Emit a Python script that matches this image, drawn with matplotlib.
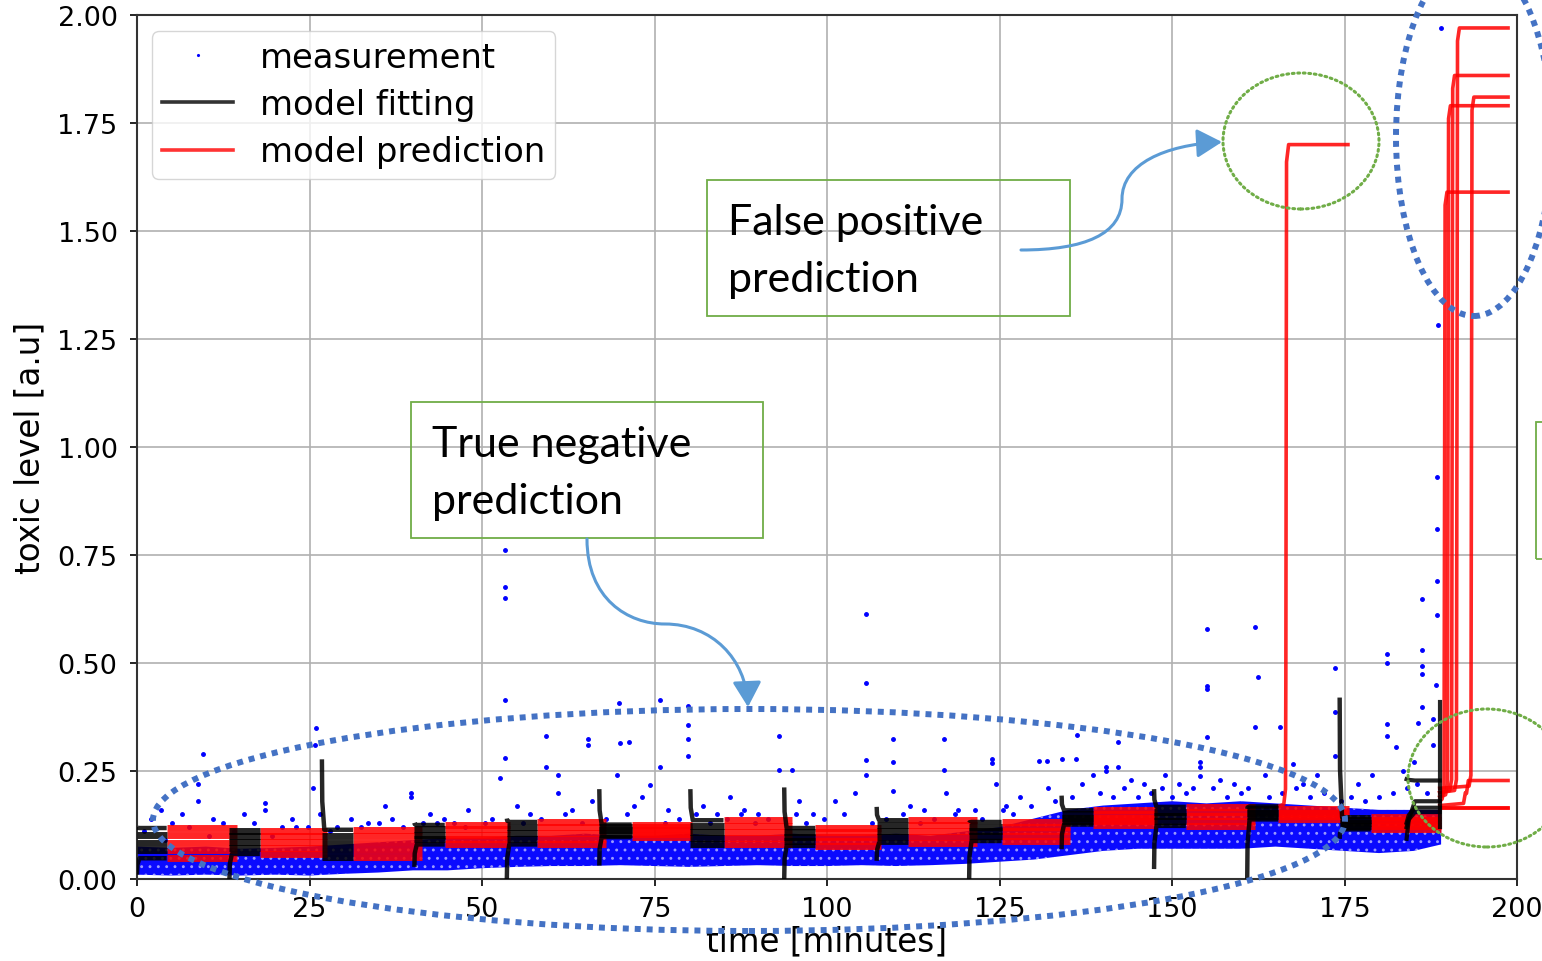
import numpy as np
import matplotlib
matplotlib.use("Agg")
import matplotlib.pyplot as plt
from matplotlib.patches import Ellipse, Rectangle, FancyArrowPatch
from matplotlib.path import Path

W, H = 1542, 962

# ---------------- data ----------------
# dense measurement band (minutes, lower / upper toxic level)
band_t = [0, 5, 10, 15, 20, 25, 30, 35, 40, 45, 50, 55, 60, 65, 70, 75, 80, 85, 90, 95,
          100, 105, 110, 115, 120, 125, 130, 135, 140, 145, 150, 155, 160, 165, 170, 175,
          180, 185, 189]
band_lo = [0.010, 0.008, 0.010, 0.008, 0.010, 0.008, 0.012, 0.015, 0.020, 0.020, 0.025,
           0.028, 0.030, 0.030, 0.032, 0.030, 0.028, 0.030, 0.032, 0.030, 0.030, 0.032,
           0.030, 0.032, 0.035, 0.040, 0.045, 0.055, 0.065, 0.070, 0.070, 0.070, 0.070,
           0.075, 0.070, 0.065, 0.060, 0.065, 0.080]
band_hi = [0.075, 0.072, 0.075, 0.070, 0.072, 0.075, 0.080, 0.085, 0.090, 0.095, 0.095,
           0.100, 0.100, 0.105, 0.100, 0.100, 0.105, 0.100, 0.100, 0.105, 0.100, 0.100,
           0.105, 0.100, 0.110, 0.120, 0.140, 0.160, 0.170, 0.175, 0.180, 0.175, 0.180,
           0.175, 0.170, 0.165, 0.160, 0.160, 0.160]

# scattered measurements outside the dense band
meas_t = [2.0, 3.5, 5.0, 6.5, 8.8, 8.8, 9.6, 11.0, 12.5, 15.5, 17.0, 18.5, 18.6, 21.0, 22.5,
          24.8, 25.5, 25.8, 25.9, 26.5, 29.0, 31.0, 33.5, 36.0, 37.0, 39.7, 39.7, 42.5, 43.5,
          46.0, 48.0, 50.5, 52.6, 53.3, 53.3, 53.3, 53.3, 53.4, 55.0, 57.0, 59.3, 59.3, 61.0,
          61.0, 63.0, 65.3, 65.3, 66.0, 69.5, 69.9, 70.0, 71.3, 72.0, 73.2, 74.3, 75.8, 75.8,
          77.0, 79.8, 79.8, 79.8, 79.8, 82.0, 84.0, 86.0, 88.0, 90.0, 93.1, 93.1, 94.9, 96.0,
          98.0, 101.2, 104.0, 105.7, 105.7, 105.7, 105.7, 109.6, 109.6, 109.6, 112.0, 114.0,
          116.9, 117.0, 117.2, 119.0, 123.9, 123.9, 124.5, 126.0, 128.0, 130.7, 131.9, 132.0,
          134.1, 136.1, 136.2, 137.0, 138.5, 140.4, 140.4, 142.2, 142.2, 144.0, 146.0, 149.0,
          151.0, 153.0, 154.0, 154.0, 154.1, 155.1, 155.1, 155.1, 155.1, 157.0, 159.0, 162.1,
          162.4, 162.1, 163.5, 165.7, 167.5, 169.0, 171.0, 173.6, 173.6, 173.6, 177.0, 179.0,
          181.1, 181.1, 181.1, 181.1, 182.4, 183.5, 185.0, 186.2, 186.2, 186.2, 186.2, 186.2,
          185.6, 187.8, 187.8, 188.4, 188.4, 188.4, 188.4, 189.0, 188.5, 188.3,
          1.0, 4.0, 7.5, 10.5, 14.0, 19.5, 23.0, 28.0, 32.5, 35.0, 38.5, 41.5, 44.5, 47.5,
          51.5, 56.0, 58.5, 62.0, 64.5, 68.0, 71.0, 76.5, 78.5, 81.0, 83.0, 85.5, 87.5, 89.5,
          91.5, 95.5, 97.0, 99.5, 102.5, 106.5, 108.5, 111.0, 113.5, 115.5, 118.5, 121.5,
          122.5, 125.5, 127.0, 129.5, 133.0, 135.5, 139.5, 141.5, 143.0, 145.0, 147.0, 148.5,
          150.0, 152.0, 156.0, 158.0, 160.0, 161.0, 164.0, 166.0, 168.0, 170.0, 172.0, 174.5,
          176.0, 178.0, 180.0, 182.0, 184.0, 185.5, 187.0]
meas_v = [0.14, 0.16, 0.13, 0.15, 0.22, 0.18, 0.29, 0.14, 0.13, 0.15, 0.13, 0.16, 0.175, 0.12,
          0.14, 0.12, 0.21, 0.31, 0.35, 0.15, 0.12, 0.14, 0.13, 0.17, 0.14, 0.20, 0.19, 0.15,
          0.13, 0.13, 0.16, 0.13, 0.234, 0.762, 0.675, 0.65, 0.415, 0.28, 0.17, 0.15, 0.33,
          0.26, 0.241, 0.20, 0.16, 0.324, 0.31, 0.18, 0.24, 0.407, 0.315, 0.317, 0.17, 0.19,
          0.218, 0.415, 0.26, 0.16, 0.40, 0.357, 0.324, 0.285, 0.17, 0.15, 0.19, 0.16, 0.15,
          0.33, 0.252, 0.252, 0.18, 0.15, 0.18, 0.20, 0.613, 0.454, 0.276, 0.24, 0.324, 0.27,
          0.204, 0.17, 0.16, 0.324, 0.252, 0.20, 0.16, 0.278, 0.268, 0.22, 0.17, 0.19, 0.272,
          0.272, 0.21, 0.278, 0.278, 0.333, 0.22, 0.24, 0.26, 0.25, 0.26, 0.318, 0.23, 0.22,
          0.24, 0.22, 0.21, 0.26, 0.27, 0.239, 0.579, 0.447, 0.44, 0.328, 0.23, 0.22, 0.584,
          0.468, 0.352, 0.24, 0.352, 0.266, 0.22, 0.24, 0.488, 0.387, 0.285, 0.22, 0.24,
          0.521, 0.501, 0.359, 0.33, 0.305, 0.25, 0.27, 0.648, 0.531, 0.494, 0.475, 0.397,
          0.36, 0.37, 0.31, 0.931, 0.81, 0.69, 0.61, 1.97, 1.282, 0.45,
          0.11, 0.09, 0.12, 0.10, 0.11, 0.10, 0.12, 0.11, 0.12, 0.13, 0.12, 0.13, 0.14, 0.12,
          0.14, 0.13, 0.14, 0.15, 0.13, 0.14, 0.15, 0.13, 0.14, 0.15, 0.13, 0.14, 0.15, 0.13,
          0.14, 0.15, 0.13, 0.14, 0.15, 0.13, 0.14, 0.15, 0.13, 0.14, 0.15, 0.16, 0.14, 0.16,
          0.15, 0.17, 0.18, 0.19, 0.20, 0.19, 0.21, 0.19, 0.20, 0.21, 0.19, 0.20, 0.21, 0.19,
          0.20, 0.21, 0.19, 0.20, 0.21, 0.19, 0.20, 0.18, 0.19, 0.18, 0.19, 0.20, 0.21, 0.22,
          0.20]

# sliding model windows: fit start, fit end, prediction end, spike values
win_start = [0.0, 13.4, 26.8, 40.2, 53.6, 67.0, 80.2, 93.8, 107.2, 120.6, 134.0, 147.4, 160.9, 174.3]
fit_end = [4.3, 17.8, 31.3, 44.6, 58.0, 71.7, 85.0, 98.3, 111.8, 125.3, 138.6, 152.0, 165.4, 178.8]
pred_end = [14.5, 27.5, 41.3, 54.0, 68.0, 80.5, 94.9, 107.8, 121.7, 135.2, 147.8, 162.0, 175.7, 189.0]
spike_hi = [0.12, 0.11, 0.277, 0.13, 0.14, 0.208, 0.208, 0.212, 0.167, 0.13, 0.193, 0.208, 0.162, 0.42]
spike_lo = [0.01, 0.0, 0.05, 0.028, 0.0, 0.031, 0.08, 0.0, 0.042, 0.0, 0.069, 0.023, 0.0, 0.093]
run_levels = [
    [0.048, 0.066, 0.084, 0.102, 0.118],
    [0.058, 0.072, 0.086, 0.099, 0.110],
    [0.050, 0.067, 0.084, 0.100, 0.114],
    [0.080, 0.092, 0.103, 0.115, 0.125],
    [0.080, 0.093, 0.106, 0.120, 0.132],
    [0.097, 0.105, 0.113, 0.120, 0.126],
    [0.080, 0.094, 0.108, 0.123, 0.136],
    [0.077, 0.088, 0.098, 0.108, 0.118],
    [0.084, 0.097, 0.110, 0.124, 0.136],
    [0.088, 0.099, 0.110, 0.121, 0.132],
    [0.126, 0.134, 0.142, 0.151, 0.159],
    [0.123, 0.134, 0.145, 0.156, 0.167],
    [0.138, 0.146, 0.153, 0.161, 0.168],
    [0.115, 0.122, 0.129, 0.136, 0.143],
]
# false positive run (window 13)
fp_window = 12
fp_rise_t = 166.5
fp_level = 1.70

# last window
last_start = 184.0
last_fit_end = 188.8
last_pred_end = 198.7
last_fit_levels = [0.228, 0.18, 0.165, 0.155]
last_fit_begin = [0.231, 0.093, 0.13, 0.12]
last_spike = [0.12, 0.41]
last_base = [0.20, 0.20, 0.21, 0.19, 0.18, 0.17, 0.164, 0.164]
last_rise = [191.3, 190.6, 193.4, 190.0, 189.5, 192.6, 198.7, 198.7]
last_final = [1.97, 1.86, 1.81, 1.79, 1.59, 0.228, 0.164, 0.164]

xticks = [0, 25, 50, 75, 100, 125, 150, 175, 200]
yticks = [0.00, 0.25, 0.50, 0.75, 1.00, 1.25, 1.50, 1.75, 2.00]

# ---------------- figure ----------------
plt.rcParams["hatch.linewidth"] = 0.9
fig = plt.figure(figsize=(W / 100, H / 100), dpi=100)
ax = fig.add_axes([137 / W, 82 / H, 1380 / W, 864 / H])

BLUE = "#0000ff"
ax.fill_between(band_t, band_lo, band_hi, facecolor="#0a0aff", edgecolor="#9a9aff",
                hatch="..", linewidth=0, zorder=2)
ax.plot(meas_t, meas_v, ".", color=BLUE, ms=5, zorder=2.2, label="measurement")

LW = 5.0
ALPHA = 0.85
for i, s in enumerate(win_start):
    levels = run_levels[i]
    for k, L in enumerate(levels):
        if k == 0:
            y0 = spike_lo[i]
        elif k == len(levels) - 1:
            y0 = spike_hi[i]
        else:
            y0 = L
        ax.plot([s, s + 0.05, s + 0.35, fit_end[i]], [y0, y0 + (L - y0) * 0.6, L, L],
                color="black", lw=LW if y0 == L else 3.2, alpha=ALPHA, zorder=4,
                solid_capstyle="butt")
        if i == fp_window and k == len(levels) - 1:
            xs = [fit_end[i], fp_rise_t - 0.3, fp_rise_t - 0.05, fp_rise_t, fp_rise_t + 0.1,
                  fp_rise_t + 0.4, 175.5]
            ys = [L, L + 0.005, L + 0.04, L + 0.3, fp_level - 0.04, fp_level, fp_level]
            ax.plot(xs, ys, color="red", lw=2.6, alpha=ALPHA, zorder=3)
        else:
            ax.plot([fit_end[i], pred_end[i]], [L, L], color="red", lw=LW, alpha=ALPHA,
                    zorder=3, solid_capstyle="butt")

# last window fits
for y0, L in zip(last_fit_begin, last_fit_levels):
    ax.plot([last_start, last_start + 0.3, last_start + 1.2, last_fit_end],
            [y0, (y0 + L) / 2, L, L], color="black", lw=3.0, alpha=ALPHA, zorder=4)
ax.plot([last_fit_end, last_fit_end], last_spike, color="black", lw=3.0, alpha=ALPHA, zorder=4)
# last window predictions
for b, r, f in zip(last_base, last_rise, last_final):
    if f - b > 0.02:
        xs = [last_fit_end, r - 0.35, r - 0.08, r, r + 0.08, r + 0.35, last_pred_end]
        ys = [b, b + 0.005, b + 0.03, (b + f) / 2, f - 0.03, f, f]
    else:
        xs = [last_fit_end, last_pred_end]
        ys = [b, f]
    ax.plot(xs, ys, color="red", lw=2.6, alpha=ALPHA, zorder=3)

# legend proxies
ax.plot([], [], color="black", lw=2.6, alpha=0.8, label="model fitting")
ax.plot([], [], color="red", lw=2.6, alpha=0.8, label="model prediction")

ax.set_xlim(0, 200)
ax.set_ylim(0, 2.0)
ax.set_xticks(xticks)
ax.set_yticks(yticks)
ax.set_yticklabels([f"{v:.2f}" for v in yticks])
ax.tick_params(labelsize=19.5, length=5, width=1.2)
ax.tick_params(axis="y", pad=9)
ax.tick_params(axis="x", pad=7)
ax.grid(True, color="#b0b0b0", lw=1.2)
ax.set_axisbelow(True)
for sp in ax.spines.values():
    sp.set_linewidth(1.5)
    sp.set_color("#333333")
ax.set_xlabel("time [minutes]", fontsize=23.5, labelpad=2)
ax.set_ylabel("toxic level [a.u]", fontsize=23.5, labelpad=8)

leg = ax.legend(loc="upper left", fontsize=24.3, frameon=True, handlelength=2.1,
                labelspacing=0.42, borderpad=0.3, handletextpad=0.8, borderaxespad=0,
                bbox_to_anchor=(0.0109, 0.9815), markerscale=0.5)
leg.get_frame().set_edgecolor("#cccccc")

# ---------------- annotations (figure pixel coordinates) ----------------
def P(x, y):
    return (x / W, 1 - y / H)

GREEN = "#70AD47"
DBLUE = "#4472C4"
ABLUE = "#5B9BD5"
TF = fig.transFigure


def ellipse(cx, cy, rx, ry, color, lw, dash, cap):
    e = Ellipse(P(cx, cy), 2 * rx / W, 2 * ry / H, transform=TF, fill=False,
                edgecolor=color, lw=lw, linestyle=(0, dash), zorder=10, clip_on=False)
    e.set_capstyle(cap)
    fig.add_artist(e)


ellipse(749, 821, 596, 111, DBLUE, 4.3, (1, 1), "butt")
ellipse(1474, 138, 78, 179, DBLUE, 4.3, (1, 1), "butt")
ellipse(1301, 142, 78, 68, GREEN, 2.2, (0.6, 1.2), "round")
ellipse(1487, 779, 79, 69, GREEN, 2.2, (0.6, 1.2), "round")


def box(x0, y0, x1, y1):
    r = Rectangle(P(x0, y1), (x1 - x0) / W, (y1 - y0) / H, transform=TF, fill=False,
                  edgecolor=GREEN, lw=1.3, zorder=10, clip_on=False)
    fig.add_artist(r)


box(707, 181, 1070, 317)
box(411, 403, 763, 539)
box(1536, 423, 1600, 560)

TFONT = dict(family=["Lato", "DejaVu Sans"], fontsize=31, color="black", va="baseline",
             ha="left", transform=TF, zorder=11)
fig.text(*P(728, 235), "False positive", **TFONT)
fig.text(*P(728, 292), "prediction", **TFONT)
fig.text(*P(432, 457), "True negative", **TFONT)
fig.text(*P(432, 514), "prediction", **TFONT)


def arrow(pts):
    verts = [P(*p) for p in pts]
    codes = [Path.MOVETO] + [Path.CURVE4] * (len(pts) - 1)
    a = FancyArrowPatch(path=Path(verts, codes), arrowstyle="-|>,head_length=0.7,head_width=0.4",
                        mutation_scale=22, color=ABLUE, lw=2.2, transform=TF, zorder=11,
                        clip_on=False)
    fig.add_artist(a)


arrow([(1021, 251), (1085, 251), (1122, 235), (1122, 200),
       (1122, 165), (1165, 146), (1222, 143)])
arrow([(587, 540), (587, 600), (628, 625), (665, 625),
       (712, 625), (746, 660), (748, 708)])

fig.savefig("out.png", dpi=100)
